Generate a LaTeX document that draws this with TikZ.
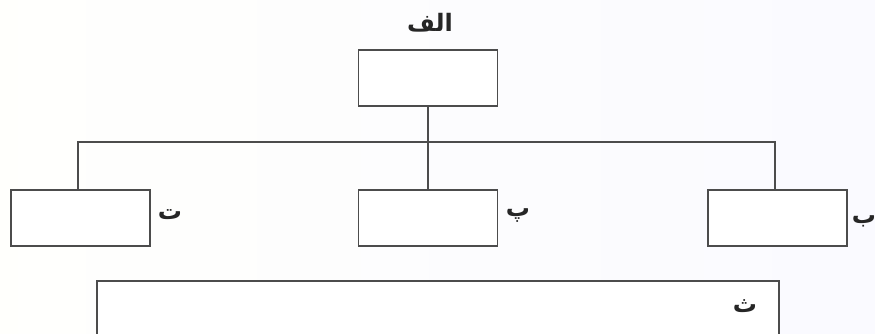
\documentclass[tikz,border=0pt]{standalone}
\usepackage{fontspec}
\TeXXeTstate=1
\newfontfamily\arabicfont[Script=Arabic]{DejaVu Sans}
\begin{document}
\begin{tikzpicture}[x=1pt,y=-1pt,
  boxstyle/.style={draw=black!70, line width=1.3pt, fill=white, minimum width=139pt, minimum height=56pt, inner sep=0pt},
  wire/.style={draw=black!70, line width=1.3pt},
  lbl/.style={font=\arabicfont\bfseries\fontsize{24}{28}\selectfont, text=black!85, inner sep=0pt}]
\useasboundingbox (0,0) rectangle (875,334);
\clip (0,0) rectangle (875,334);
\fill[left color=white!99!yellow, right color=blue!2!white] (0,0) rectangle (875,334);
\node[boxstyle] (top) at (428,78) {};
\node[boxstyle] (left) at (80.5,218) {};
\node[boxstyle] (mid) at (428,218) {};
\node[boxstyle] (right) at (777.5,218) {};
\coordinate (hl) at (78,142);
\coordinate (hr) at (775,142);
\draw[wire] (top.south) -- (mid.north);
\draw[wire] (left.north -| hl) -- (hl) -- (hr) -- (right.north -| hr);
\draw[draw=black!70, line width=1.3pt, fill=white] (97,281) rectangle (779,345);
\node[lbl] (alef) at (430,23) {\beginR الف\endR};
\node[lbl] (te) at (170,215) {\beginR ت\endR};
\node[lbl] (pe) at (518,216) {\beginR پ\endR};
\node[lbl] (be) at (864,221) {\beginR ب\endR};
\node[lbl] (se) at (745,306) {\beginR ث\endR};
\end{tikzpicture}
\end{document}
